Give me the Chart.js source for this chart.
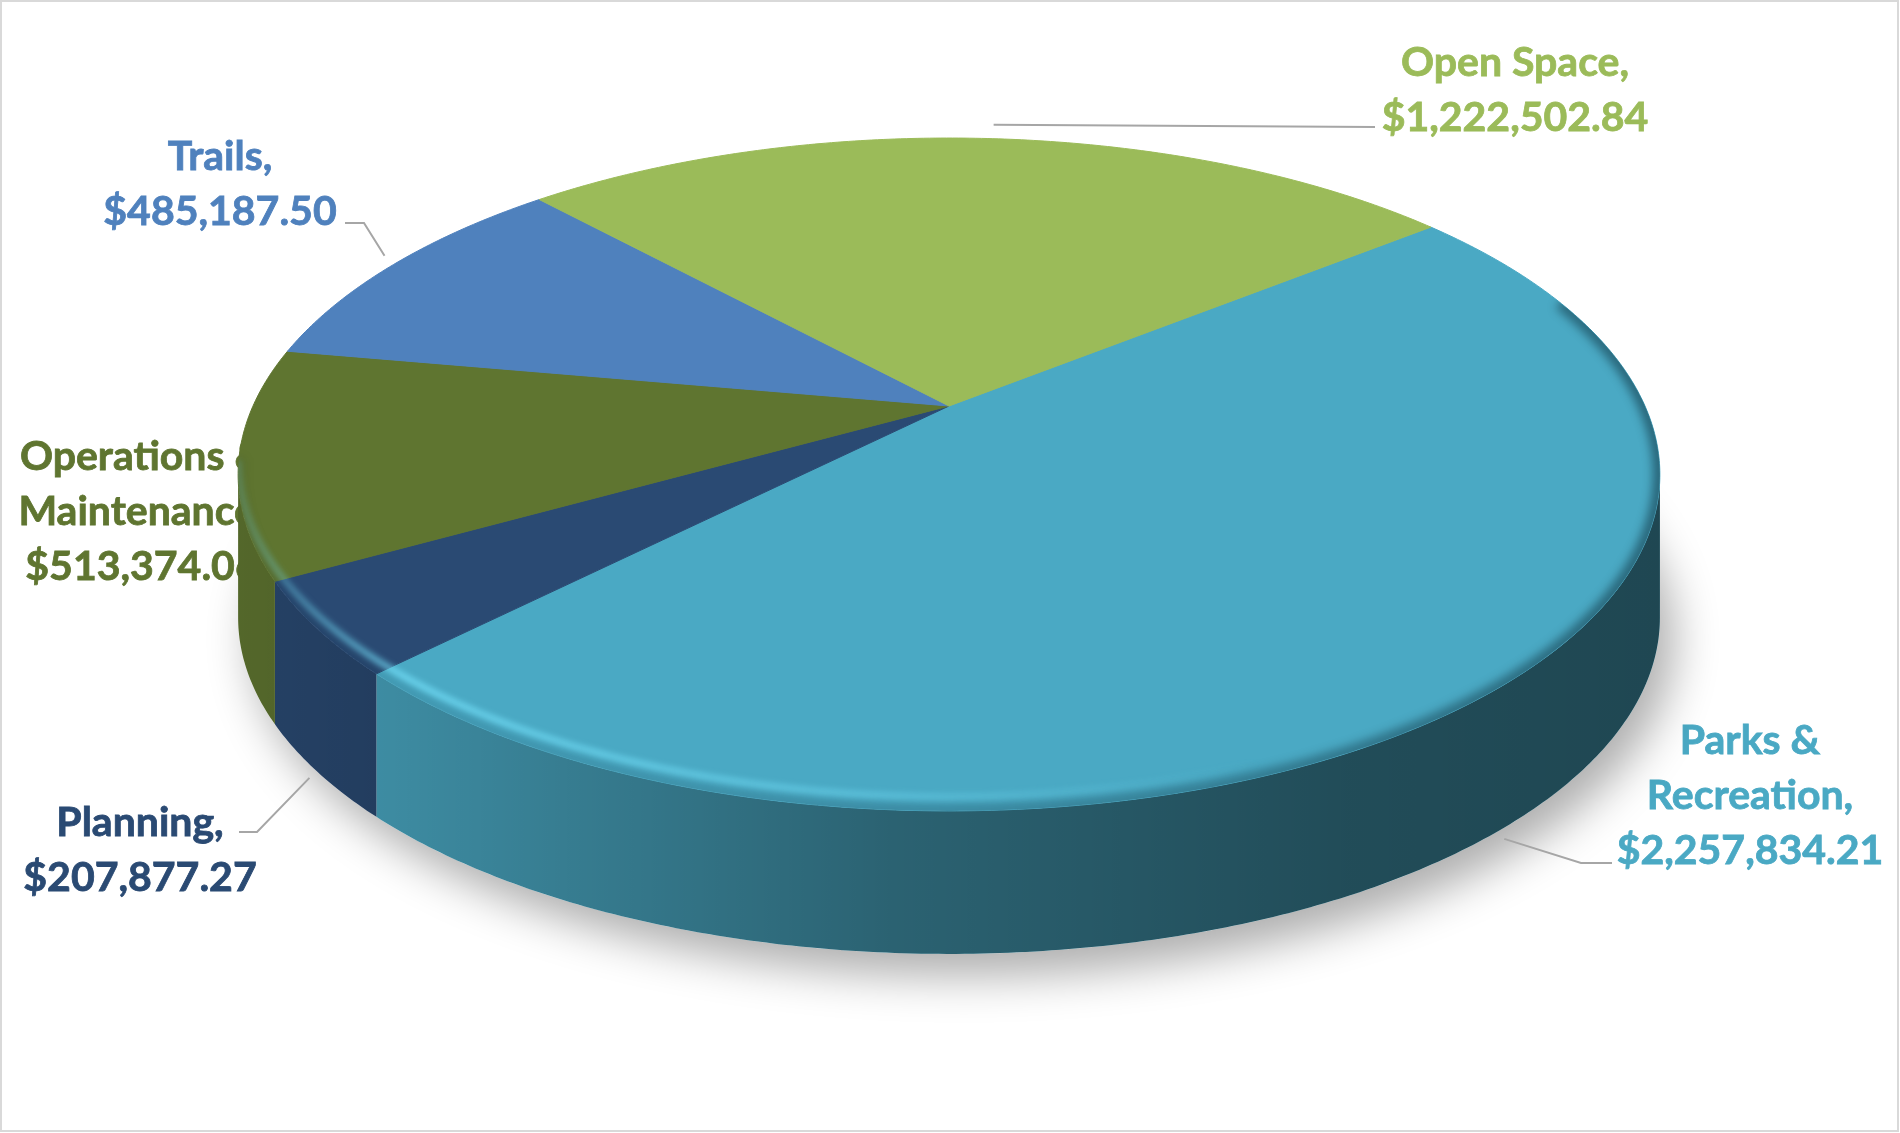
<!DOCTYPE html>
<html>
<head>
<meta charset="utf-8">
<title>Budget per area</title>
<script src="https://cdn.jsdelivr.net/npm/chart.js@4.4.1/dist/chart.umd.min.js"></script>
<style>
    html, body { margin: 0; padding: 0; background: #ffffff; }
    canvas { display: block; }
</style>
</head>
<body>
<canvas id="torta" width="1900" height="1133"></canvas>
<script>
// Dati del grafico (in senso orario a partire da Parks & Recreation)
const categorie = ['Parks & Recreation', 'Planning', 'Operations & Maintenance', 'Trails', 'Open Space'];
const importi = [2257834.21, 207877.27, 513374.06, 485187.50, 1222502.84];
const righeNome = [['Parks &', 'Recreation,'], ['Planning,'], ['Operations &', 'Maintenance,'], ['Trails,'], ['Open Space,']];
const coloriSpicchi = ['#4aa9c4', '#2a4a73', '#5f7530', '#4f81bd', '#9bbb59'];

// Posizione delle etichette (centro testo, prima linea di base) e gomiti delle linee guida
const posEtichette = [
    { x: 1750, y: 754, guida: [[1581, 863], [1612, 863]] },
    { x: 140, y: 836, guida: [[257, 832], [239, 832]] },
    { x: 142, y: 470, guida: null },
    { x: 220, y: 170, guida: [[364, 223], [345, 223]] },
    { x: 1515, y: 76, guida: [[1375, 127]] }
];
const interlinea = 55;

// Prospettiva della torta 3D
const P = 0.2035;     // intensità prospettiva
const SX = 2.32;      // scala orizzontale
const SY = 1.075;     // scala verticale
const PROF = 143;     // spessore della torta

function proietta(cx, cy, r, th, dy) {
    const u = Math.cos(th), v = Math.sin(th), w = 1 - P * v;
    return [cx + SX * r * u / w, cy + SY * r * v / w + (dy || 0)];
}

// Aggiunge al path l'arco proiettato da a a b
function curva(ctx, cx, cy, r, a, b, dy, primo) {
    const n = Math.max(2, Math.ceil(Math.abs(b - a) / 0.01));
    for (let i = 0; i <= n; i++) {
        const p = proietta(cx, cy, r, a + (b - a) * i / n, dy);
        if (i === 0 && primo) ctx.moveTo(p[0], p[1]);
        else ctx.lineTo(p[0], p[1]);
    }
}

function formatta(v) {
    return '$' + v.toLocaleString('en-US', { minimumFractionDigits: 2, maximumFractionDigits: 2 });
}

function disegnaEtichette(ctx) {
    ctx.save();
    ctx.font = 'bold 41px Lato';
    ctx.textAlign = 'center';
    ctx.textBaseline = 'alphabetic';
    categorie.forEach((c, i) => {
        const righe = righeNome[i].concat([formatta(importi[i])]);
        ctx.fillStyle = coloriSpicchi[i];
        ctx.strokeStyle = coloriSpicchi[i];
        ctx.lineWidth = 0.8;
        righe.forEach((t, j) => {
            ctx.fillText(t, posEtichette[i].x, posEtichette[i].y + j * interlinea);
            ctx.strokeText(t, posEtichette[i].x, posEtichette[i].y + j * interlinea);
        });
    });
    ctx.restore();
}

function disegnaGuide(ctx, archi, cx, cy, r) {
    ctx.save();
    ctx.strokeStyle = '#a6a6a6';
    ctx.lineWidth = 2;
    archi.forEach((arco, i) => {
        const g = posEtichette[i].guida;
        if (!g) return;
        const medio = (arco.startAngle + arco.endAngle) / 2;
        const davanti = Math.sin(medio) > P;
        const p = proietta(cx, cy, r, medio, davanti ? PROF : 0);
        ctx.beginPath();
        ctx.moveTo(p[0] + 10 * Math.cos(medio), p[1] + 10 * Math.sin(medio) - (davanti ? 0 : 4));
        g.forEach(q => ctx.lineTo(q[0], q[1]));
        ctx.stroke();
    });
    ctx.restore();
}

const torta3d = {
    id: 'torta3d',
    beforeDatasetsDraw(chart) {
        const ctx = chart.ctx;
        const archi = chart.getDatasetMeta(0).data;
        if (!archi.length) return;
        const cx = archi[0].x, cy = archi[0].y, r = archi[0].outerRadius;
        const t1 = Math.asin(P), t2 = Math.PI - t1;
        const xSin = proietta(cx, cy, r, t2)[0], xDes = proietta(cx, cy, r, t1)[0];

        disegnaEtichette(ctx);

        // ombra sotto la torta
        ctx.save();
        ctx.beginPath();
        curva(ctx, cx, cy, r, 0, 2 * Math.PI, PROF, true);
        ctx.closePath();
        ctx.shadowColor = 'rgba(0,0,0,0.32)';
        ctx.shadowBlur = 45;
        ctx.shadowOffsetX = 14;
        ctx.shadowOffsetY = 22;
        ctx.fillStyle = '#ffffff';
        ctx.fill();
        ctx.restore();

        // pareti laterali visibili
        const scuro = ctx.createLinearGradient(xSin, 0, xDes, 0);
        scuro.addColorStop(0, 'rgba(0,0,0,0.12)');
        scuro.addColorStop(0.11, 'rgba(0,0,0,0.18)');
        scuro.addColorStop(0.46, 'rgba(0,0,0,0.42)');
        scuro.addColorStop(0.78, 'rgba(0,0,0,0.55)');
        scuro.addColorStop(1, 'rgba(0,0,0,0.58)');
        archi.forEach((arco, i) => {
            for (let k = -1; k <= 1; k++) {
                const a = Math.max(arco.startAngle + 2 * Math.PI * k, t1);
                const b = Math.min(arco.endAngle + 2 * Math.PI * k, t2);
                if (b <= a) continue;
                ctx.beginPath();
                curva(ctx, cx, cy, r, a, b, 0, true);
                curva(ctx, cx, cy, r, b, a, PROF, false);
                ctx.closePath();
                ctx.fillStyle = coloriSpicchi[i];
                ctx.fill();
                ctx.fillStyle = scuro;
                ctx.fill();
            }
        });

        // facce superiori
        archi.forEach((arco, i) => {
            ctx.beginPath();
            ctx.moveTo(cx, cy);
            curva(ctx, cx, cy, r, arco.startAngle, arco.endAngle, 0, false);
            ctx.closePath();
            ctx.fillStyle = coloriSpicchi[i];
            ctx.strokeStyle = coloriSpicchi[i];
            ctx.lineWidth = 1;
            ctx.fill();
            ctx.stroke();
        });

        // smussatura del bordo: luce davanti a sinistra, ombra a destra
        ctx.save();
        ctx.beginPath();
        curva(ctx, cx, cy, r, 0, 2 * Math.PI, 0, true);
        ctx.closePath();
        ctx.clip();
        ctx.filter = 'blur(5px)';
        const rim = ctx.createLinearGradient(xSin, 0, xDes, 0);
        rim.addColorStop(0, 'rgba(0,20,30,0.08)');
        rim.addColorStop(0.5, 'rgba(0,20,30,0.22)');
        rim.addColorStop(1, 'rgba(0,20,30,0.45)');
        ctx.beginPath();
        curva(ctx, cx, cy, r, -0.35, t2 + 0.05, 0, true);
        ctx.strokeStyle = rim;
        ctx.lineWidth = 14;
        ctx.stroke();
        ctx.filter = 'blur(3px)';
        const luce = ctx.createLinearGradient(xSin, 0, xDes, 0);
        luce.addColorStop(0, 'rgba(120,230,255,0.25)');
        luce.addColorStop(0.12, 'rgba(120,230,255,0.9)');
        luce.addColorStop(0.45, 'rgba(120,230,255,0.5)');
        luce.addColorStop(0.72, 'rgba(120,230,255,0.0)');
        luce.addColorStop(1, 'rgba(120,230,255,0.0)');
        ctx.beginPath();
        curva(ctx, cx, cy, r, 0.6, t2, -14, true);
        ctx.strokeStyle = luce;
        ctx.lineWidth = 5;
        ctx.stroke();
        ctx.restore();

        disegnaGuide(ctx, archi, cx, cy, r);
        return false; // gli spicchi sono già disegnati
    },
    afterDraw(chart) {
        const ctx = chart.ctx;
        ctx.save();
        ctx.strokeStyle = '#d9d9d9';
        ctx.lineWidth = 2;
        ctx.strokeRect(1, 1, chart.width - 3, chart.height - 3);
        ctx.restore();
    }
};

const ctx = document.getElementById('torta').getContext('2d');
const torta = new Chart(ctx, {
    type: 'pie',
    data: {
        labels: categorie,
        datasets: [{
            data: importi,
            backgroundColor: coloriSpicchi,
            borderWidth: 0
        }]
    },
    options: {
        responsive: false,
        animation: false,
        devicePixelRatio: 1,
        rotation: 51.3,
        events: [],
        layout: { padding: { left: 649, right: 651, top: 106, bottom: 427 } },
        plugins: {
            legend: { display: false },
            tooltip: { enabled: false }
        }
    },
    plugins: [torta3d]
});
</script>
</body>
</html>
